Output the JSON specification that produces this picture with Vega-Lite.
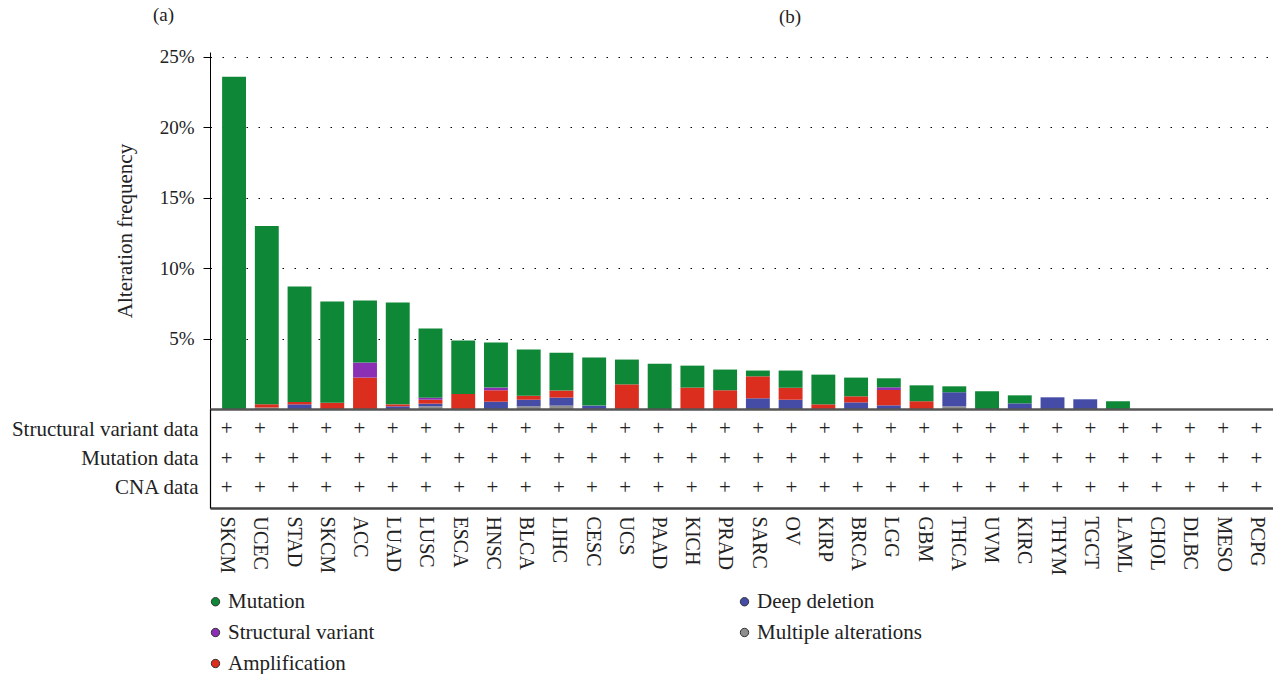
{
  "$schema": "https://vega.github.io/schema/vega-lite/v6.json",
  "padding": {"left": 11, "right": 0, "top": 5, "bottom": 0},
  "background": "white",
  "config": {
    "font": "Liberation Serif",
    "view": {"stroke": null},
    "axis": {"labelFont": "Liberation Serif", "titleFont": "Liberation Serif"},
    "legend": {"labelFont": "Liberation Serif", "titleFont": "Liberation Serif"},
    "title": {"font": "Liberation Serif"},
    "text": {"font": "Liberation Serif"}
  },
  "bounds": "flush",
  "spacing": 0,
  "datasets": {
    "alts": [
      {"code": "SKCM_1", "type": "Mutation", "pct": 23.6},
      {"code": "UCEC", "type": "Multiple alterations", "pct": 0.1},
      {"code": "UCEC", "type": "Amplification", "pct": 0.24},
      {"code": "UCEC", "type": "Mutation", "pct": 12.66},
      {"code": "STAD", "type": "Deep deletion", "pct": 0.33},
      {"code": "STAD", "type": "Amplification", "pct": 0.17},
      {"code": "STAD", "type": "Mutation", "pct": 8.2},
      {"code": "SKCM_2", "type": "Amplification", "pct": 0.45},
      {"code": "SKCM_2", "type": "Mutation", "pct": 7.18},
      {"code": "ACC", "type": "Amplification", "pct": 2.23},
      {"code": "ACC", "type": "Structural variant", "pct": 1.07},
      {"code": "ACC", "type": "Mutation", "pct": 4.4},
      {"code": "LUAD", "type": "Deep deletion", "pct": 0.19},
      {"code": "LUAD", "type": "Amplification", "pct": 0.14},
      {"code": "LUAD", "type": "Mutation", "pct": 7.23},
      {"code": "LUSC", "type": "Multiple alterations", "pct": 0.19},
      {"code": "LUSC", "type": "Deep deletion", "pct": 0.19},
      {"code": "LUSC", "type": "Amplification", "pct": 0.28},
      {"code": "LUSC", "type": "Structural variant", "pct": 0.14},
      {"code": "LUSC", "type": "Mutation", "pct": 4.91},
      {"code": "ESCA", "type": "Amplification", "pct": 1.07},
      {"code": "ESCA", "type": "Mutation", "pct": 3.79},
      {"code": "HNSC", "type": "Deep deletion", "pct": 0.52},
      {"code": "HNSC", "type": "Amplification", "pct": 0.81},
      {"code": "HNSC", "type": "Structural variant", "pct": 0.19},
      {"code": "HNSC", "type": "Mutation", "pct": 3.2},
      {"code": "BLCA", "type": "Multiple alterations", "pct": 0.19},
      {"code": "BLCA", "type": "Deep deletion", "pct": 0.47},
      {"code": "BLCA", "type": "Amplification", "pct": 0.28},
      {"code": "BLCA", "type": "Mutation", "pct": 3.28},
      {"code": "LIHC", "type": "Multiple alterations", "pct": 0.24},
      {"code": "LIHC", "type": "Deep deletion", "pct": 0.57},
      {"code": "LIHC", "type": "Amplification", "pct": 0.5},
      {"code": "LIHC", "type": "Mutation", "pct": 2.69},
      {"code": "CESC", "type": "Deep deletion", "pct": 0.24},
      {"code": "CESC", "type": "Mutation", "pct": 3.41},
      {"code": "UCS", "type": "Amplification", "pct": 1.75},
      {"code": "UCS", "type": "Mutation", "pct": 1.76},
      {"code": "PAAD", "type": "Mutation", "pct": 3.22},
      {"code": "KICH", "type": "Amplification", "pct": 1.52},
      {"code": "KICH", "type": "Mutation", "pct": 1.56},
      {"code": "PRAD", "type": "Amplification", "pct": 1.33},
      {"code": "PRAD", "type": "Mutation", "pct": 1.47},
      {"code": "SARC", "type": "Deep deletion", "pct": 0.76},
      {"code": "SARC", "type": "Amplification", "pct": 1.56},
      {"code": "SARC", "type": "Mutation", "pct": 0.41},
      {"code": "OV", "type": "Deep deletion", "pct": 0.66},
      {"code": "OV", "type": "Amplification", "pct": 0.85},
      {"code": "OV", "type": "Mutation", "pct": 1.22},
      {"code": "KIRP", "type": "Amplification", "pct": 0.33},
      {"code": "KIRP", "type": "Mutation", "pct": 2.11},
      {"code": "BRCA", "type": "Deep deletion", "pct": 0.47},
      {"code": "BRCA", "type": "Amplification", "pct": 0.43},
      {"code": "BRCA", "type": "Mutation", "pct": 1.33},
      {"code": "LGG", "type": "Deep deletion", "pct": 0.26},
      {"code": "LGG", "type": "Amplification", "pct": 1.09},
      {"code": "LGG", "type": "Structural variant", "pct": 0.19},
      {"code": "LGG", "type": "Mutation", "pct": 0.64},
      {"code": "GBM", "type": "Amplification", "pct": 0.55},
      {"code": "GBM", "type": "Mutation", "pct": 1.13},
      {"code": "THCA", "type": "Multiple alterations", "pct": 0.19},
      {"code": "THCA", "type": "Deep deletion", "pct": 1.0},
      {"code": "THCA", "type": "Mutation", "pct": 0.42},
      {"code": "UVM", "type": "Mutation", "pct": 1.26},
      {"code": "KIRC", "type": "Deep deletion", "pct": 0.4},
      {"code": "KIRC", "type": "Mutation", "pct": 0.57},
      {"code": "THYM", "type": "Deep deletion", "pct": 0.83},
      {"code": "TGCT", "type": "Deep deletion", "pct": 0.69},
      {"code": "LAML", "type": "Mutation", "pct": 0.55}
    ],
    "profiles": [
      {"code": "SKCM_1", "Structural variant data": "+", "Mutation data": "+", "CNA data": "+"},
      {"code": "UCEC", "Structural variant data": "+", "Mutation data": "+", "CNA data": "+"},
      {"code": "STAD", "Structural variant data": "+", "Mutation data": "+", "CNA data": "+"},
      {"code": "SKCM_2", "Structural variant data": "+", "Mutation data": "+", "CNA data": "+"},
      {"code": "ACC", "Structural variant data": "+", "Mutation data": "+", "CNA data": "+"},
      {"code": "LUAD", "Structural variant data": "+", "Mutation data": "+", "CNA data": "+"},
      {"code": "LUSC", "Structural variant data": "+", "Mutation data": "+", "CNA data": "+"},
      {"code": "ESCA", "Structural variant data": "+", "Mutation data": "+", "CNA data": "+"},
      {"code": "HNSC", "Structural variant data": "+", "Mutation data": "+", "CNA data": "+"},
      {"code": "BLCA", "Structural variant data": "+", "Mutation data": "+", "CNA data": "+"},
      {"code": "LIHC", "Structural variant data": "+", "Mutation data": "+", "CNA data": "+"},
      {"code": "CESC", "Structural variant data": "+", "Mutation data": "+", "CNA data": "+"},
      {"code": "UCS", "Structural variant data": "+", "Mutation data": "+", "CNA data": "+"},
      {"code": "PAAD", "Structural variant data": "+", "Mutation data": "+", "CNA data": "+"},
      {"code": "KICH", "Structural variant data": "+", "Mutation data": "+", "CNA data": "+"},
      {"code": "PRAD", "Structural variant data": "+", "Mutation data": "+", "CNA data": "+"},
      {"code": "SARC", "Structural variant data": "+", "Mutation data": "+", "CNA data": "+"},
      {"code": "OV", "Structural variant data": "+", "Mutation data": "+", "CNA data": "+"},
      {"code": "KIRP", "Structural variant data": "+", "Mutation data": "+", "CNA data": "+"},
      {"code": "BRCA", "Structural variant data": "+", "Mutation data": "+", "CNA data": "+"},
      {"code": "LGG", "Structural variant data": "+", "Mutation data": "+", "CNA data": "+"},
      {"code": "GBM", "Structural variant data": "+", "Mutation data": "+", "CNA data": "+"},
      {"code": "THCA", "Structural variant data": "+", "Mutation data": "+", "CNA data": "+"},
      {"code": "UVM", "Structural variant data": "+", "Mutation data": "+", "CNA data": "+"},
      {"code": "KIRC", "Structural variant data": "+", "Mutation data": "+", "CNA data": "+"},
      {"code": "THYM", "Structural variant data": "+", "Mutation data": "+", "CNA data": "+"},
      {"code": "TGCT", "Structural variant data": "+", "Mutation data": "+", "CNA data": "+"},
      {"code": "LAML", "Structural variant data": "+", "Mutation data": "+", "CNA data": "+"},
      {"code": "CHOL", "Structural variant data": "+", "Mutation data": "+", "CNA data": "+"},
      {"code": "DLBC", "Structural variant data": "+", "Mutation data": "+", "CNA data": "+"},
      {"code": "MESO", "Structural variant data": "+", "Mutation data": "+", "CNA data": "+"},
      {"code": "PCPG", "Structural variant data": "+", "Mutation data": "+", "CNA data": "+"}
    ]
  },
  "vconcat": [
    {
      "width": 1063,
      "height": 357,
      "title": {"text": "(a)", "anchor": "start", "frame": "group", "dx": -57, "offset": 23, "fontSize": 19, "fontWeight": "normal", "font": "Liberation Serif", "color": "#222"},
      "data": {"name": "alts"},
      "transform": [
        {"calculate": "indexof(['Multiple alterations','Deep deletion','Amplification','Structural variant','Mutation'], datum.type)", "as": "stackOrder"}
      ],
      "mark": {"type": "bar"},
      "encoding": {
        "x": {
          "field": "code", "type": "nominal",
          "scale": {"domain": ["SKCM_1","UCEC","STAD","SKCM_2","ACC","LUAD","LUSC","ESCA","HNSC","BLCA","LIHC","CESC","UCS","PAAD","KICH","PRAD","SARC","OV","KIRP","BRCA","LGG","GBM","THCA","UVM","KIRC","THYM","TGCT","LAML","CHOL","DLBC","MESO","PCPG"], "paddingInner": 0.27, "paddingOuter": 0.37},
          "axis": {"title": null, "labels": false, "ticks": false, "domain": true, "domainColor": "#555", "domainWidth": 2.5, "zindex": 1}
        },
        "y": {
          "field": "pct", "type": "quantitative", "stack": "zero",
          "scale": {"domain": [0, 25.35], "nice": false},
          "axis": {"title": "Alteration frequency", "values": [5, 10, 15, 20, 25], "labelExpr": "datum.value + '%'", "grid": true, "gridColor": "#000", "gridDash": [1.5, 10.5], "gridWidth": 1.2, "tickSize": 7, "tickColor": "#000", "domainColor": "#000", "labelPadding": 9, "labelFont": "Liberation Serif", "labelFontSize": 19, "titleFont": "Liberation Serif", "titleFontSize": 21, "titleFontWeight": "normal", "titlePadding": 24, "labelColor": "#222", "titleColor": "#222"}
        },
        "color": {
          "field": "type", "type": "nominal",
          "scale": {"domain": ["Mutation", "Structural variant", "Amplification", "Deep deletion", "Multiple alterations"], "range": ["#0e8837", "#8b30b5", "#dc2e1f", "#454ca6", "#8f8f8f"]},
          "legend": {"title": null, "orient": "none", "legendX": -5, "legendY": 539, "columns": 2, "columnPadding": 359, "rowPadding": 9, "symbolType": "circle", "symbolSize": 70, "symbolStrokeColor": "#333", "symbolStrokeWidth": 1, "labelFontSize": 21, "labelFont": "Liberation Serif", "labelLimit": 300, "labelOffset": 2, "padding": 0, "labelColor": "#222", "symbolOpacity": 1}
        },
        "order": {"field": "stackOrder", "type": "quantitative", "sort": "ascending"}
      }
    },
    {
      "width": 1063,
      "height": 99,
      "title": {"text": "(b)", "anchor": "start", "frame": "group", "dx": 569, "dy": -378, "fontSize": 19, "fontWeight": "normal", "font": "Liberation Serif", "color": "#222"},
      "data": {"name": "profiles"},
      "transform": [
        {"fold": ["Structural variant data", "Mutation data", "CNA data"], "as": ["profile", "flag"]}
      ],
      "mark": {"type": "text", "font": "Liberation Serif", "fontSize": 21, "color": "#222", "baseline": "middle"},
      "encoding": {
        "x": {
          "field": "code", "type": "nominal",
          "scale": {"domain": ["SKCM_1","UCEC","STAD","SKCM_2","ACC","LUAD","LUSC","ESCA","HNSC","BLCA","LIHC","CESC","UCS","PAAD","KICH","PRAD","SARC","OV","KIRP","BRCA","LGG","GBM","THCA","UVM","KIRC","THYM","TGCT","LAML","CHOL","DLBC","MESO","PCPG"], "paddingInner": 0.27, "paddingOuter": 0.37},
          "axis": {"title": null, "ticks": false, "labelAngle": 90, "labelExpr": "split(datum.value,'_')[0]", "labelFont": "Liberation Serif", "labelFontSize": 20, "labelPadding": 8, "domainColor": "#444", "domainWidth": 2.5, "labelColor": "#222"}
        },
        "y": {
          "field": "profile", "type": "nominal",
          "scale": {"type": "point", "domain": ["Structural variant data", "Mutation data", "CNA data"], "padding": 0.7},
          "axis": {"title": null, "ticks": false, "labelFont": "Liberation Serif", "labelFontSize": 21, "labelLimit": 300, "labelPadding": 12, "domainColor": "#000", "domainWidth": 1.2, "labelColor": "#222"}
        },
        "text": {"field": "flag"}
      }
    }
  ]
}
